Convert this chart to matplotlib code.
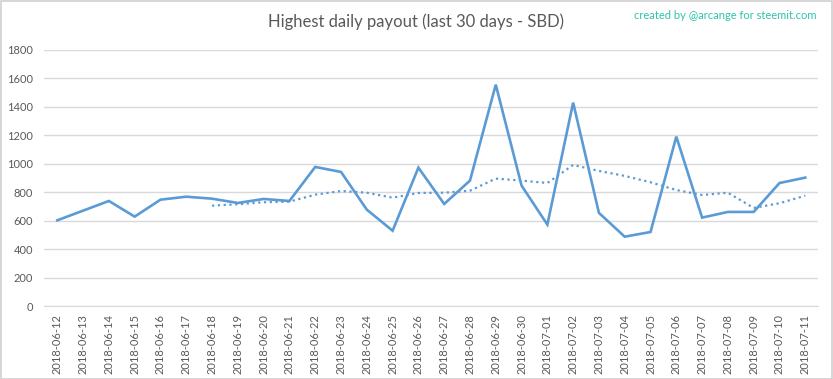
import matplotlib
matplotlib.use("Agg")
import matplotlib.pyplot as plt
from matplotlib.patches import Rectangle

# data
dates = ["2018-06-12", "2018-06-13", "2018-06-14", "2018-06-15", "2018-06-16",
         "2018-06-17", "2018-06-18", "2018-06-19", "2018-06-20", "2018-06-21",
         "2018-06-22", "2018-06-23", "2018-06-24", "2018-06-25", "2018-06-26",
         "2018-06-27", "2018-06-28", "2018-06-29", "2018-06-30", "2018-07-01",
         "2018-07-02", "2018-07-03", "2018-07-04", "2018-07-05", "2018-07-06",
         "2018-07-07", "2018-07-08", "2018-07-09", "2018-07-10", "2018-07-11"]
payout = [602, 670, 738, 628, 747, 768, 754, 724, 752, 738,
          977, 942, 677, 529, 972, 717, 881, 1555, 846, 572,
          1429, 654, 487, 520, 1190, 621, 661, 661, 864, 902]
# dotted trend (moving average) starts on the 7th day
trend_dates = dates[6:]
trend = [705, 715, 729, 733, 782, 808, 796, 761, 794, 796, 810, 895,
         881, 864, 991, 949, 914, 869, 815, 780, 796, 689, 722, 775]
yticks = [0, 200, 400, 600, 800, 1000, 1200, 1400, 1600, 1800]

LINE = "#5B9BD5"
GRID = "#D9D9D9"
TXT = "#595959"

plt.rcParams['font.family'] = ['Lato', 'DejaVu Sans']

fig = plt.figure(figsize=(8.33, 3.79), dpi=100)
fig.patches.append(Rectangle((0.001, 0.001), 0.998, 0.997, transform=fig.transFigure,
                             fill=False, edgecolor="#D0D0D0", linewidth=1.2))
ax = fig.add_axes([0.0533, 0.1926, 0.9289, 0.676])

x = list(range(len(dates)))
ax.plot(x, payout, color=LINE, linewidth=1.9, solid_joinstyle="miter")
tx = [dates.index(d) for d in trend_dates]
ax.plot(tx, trend, color=LINE, linewidth=1.6, linestyle=(0, (1, 1.6)))

ax.set_xlim(-0.5, len(dates) - 0.5)
ax.set_ylim(0, 1800)
ax.set_yticks(yticks)
ax.set_yticklabels([str(v) for v in yticks])
ax.set_xticks(x)
ax.set_xticklabels(dates, rotation=90)
ax.grid(axis="y", color=GRID, linewidth=1.0)
ax.set_axisbelow(True)
for s in ["top", "right", "left"]:
    ax.spines[s].set_visible(False)
ax.spines["bottom"].set_color(GRID)
ax.tick_params(axis="both", length=0, labelsize=8, colors=TXT)
ax.tick_params(axis="y", pad=8)
ax.tick_params(axis="x", pad=6)

fig.text(0.499, 0.942, "Highest daily payout (last 30 days - SBD)", ha="center", va="center",
         fontsize=12, color=TXT)
fig.text(0.98, 0.958, "created by @arcange for steemit.com", ha="right", va="center",
         fontsize=8, color="#2EC4A8")

fig.savefig("out.png", dpi=100)
